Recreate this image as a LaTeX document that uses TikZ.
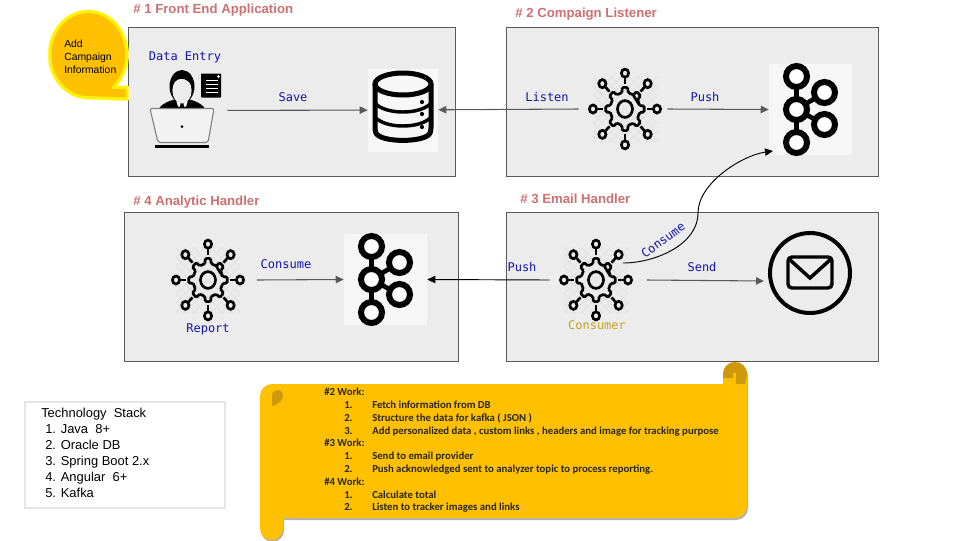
\documentclass[tikz,border=0pt]{standalone}
\usepackage{fontspec}
\setmainfont{Liberation Sans}
\setmonofont{DejaVu Sans Mono}
\newfontfamily\scrollfont{Carlito}
\usetikzlibrary{arrows.meta,positioning,shapes.geometric,calc}
\definecolor{panelgray}{RGB}{236,236,236}
\definecolor{edgegray}{RGB}{89,89,89}
\definecolor{titlered}{RGB}{204,112,112}
\definecolor{tagblue}{RGB}{20,20,170}
\definecolor{scrollgold}{RGB}{255,192,0}
\definecolor{folddark}{RGB}{205,153,10}
\definecolor{meshgray}{RGB}{226,226,226}
\definecolor{consumergold}{RGB}{200,160,40}

\tikzset{
	gearicon/.pic={
		\begin{scope}
			\clip (-32,-33) rectangle (32,33);
			\foreach \k in {-8,...,8} {
				\draw [meshgray, line width=0.6pt] (9*\k-40,-40) -- (9*\k+40,40);
				\draw [meshgray, line width=0.6pt] (9*\k+40,-40) -- (9*\k-40,40);
			}
		\end{scope}
		\begin{scope}[yscale=1.12]
			\draw [line width=2pt, rounded corners=1pt]
				\foreach \a in {0,45,...,315} { (\a-12:15) -- (\a-8:19.5) -- (\a+8:19.5) -- (\a+12:15) -- (\a+33:15) } -- cycle;
			\draw [line width=2pt] (0,0) circle (7.5);
			\foreach \a in {0,45,...,315} {
				\draw [line width=2pt] (\a:22) -- (\a:28.5);
				\draw [line width=2pt, fill=panelgray] (\a:32) circle (3.6);
			}
		\end{scope}
	},
	kafkaicon/.pic={
		\draw [line width=3.75pt] (-14,-33) -- (-14,33);
		\draw [line width=3.5pt] (-14,0) -- (14,-17) (-14,0) -- (14,15);
		\foreach \px/\py in {-14/-33,-14/0,-14/33,14/-17,14/15} {
			\draw [line width=4.5pt, fill=white] (\px,\py) circle (10.5);
		}
	},
	dbicon/.pic={
		\draw [line width=3.75pt, rounded corners=2pt] (-28,-26) -- (-28,20) .. controls (-24,33) and (24,33) .. (28,20) -- (28,-26);
		\draw [line width=3.75pt] (0,-26) ellipse (28 and 11);
		\draw [line width=2.6pt] (-28,-7) .. controls (-18,5) and (18,5) .. (28,-7);
		\draw [line width=2.6pt] (-28,7) .. controls (-18,19) and (18,19) .. (28,7);
		\fill (19,-8) circle (2.1) (19,4) circle (2.1) (19,17) circle (2.1);
	},
	mailicon/.pic={
		\draw [line width=2.6pt, rounded corners=3pt] (-22,-16) rectangle (22,15);
		\draw [line width=2.6pt] (-21,-14) -- (0,5) -- (21,-14);
	},
	agenticon/.pic={
		% man
		\fill (-23,-2) .. controls (-18,-9) and (-10,-10) .. (-5,-12) -- (5,-12) .. controls (10,-10) and (18,-9) .. (23,-2) -- cycle;
		\fill [white] (-6,-10) -- (0,-6) -- (6,-10) -- (4,-4) -- (-4,-4) -- cycle;
		\fill (-1.5,-7) -- (1.5,-7) -- (2.2,-2) -- (-2.2,-2) -- cycle;
		\fill (0,-24) ellipse (12.5 and 16.5);
		\fill [panelgray] (0,-20) ellipse (9.6 and 13);
		\fill (-10,-25) .. controls (-5,-34) and (4,-34) .. (10,-25) -- (8,-37) -- (-8,-37) -- cycle;
		% note
		\fill [rounded corners=0.5pt] (19,-37) rectangle (39,-13);
		\draw [white, line width=0.7pt] (24,-30) -- (36,-30) (24,-26) -- (36,-26) (24,-22) -- (36,-22) (24,-18) -- (36,-18);
		\draw [white, line width=0.7pt] (34.5,-34) -- (37.5,-34) (36,-35.5) -- (36,-32.5);
		% laptop
		\draw [color=gray, fill=panelgray!70!white, line width=0.8pt, rounded corners=1.5pt] (-32,-2) -- (32,-2) -- (26,32) -- (-24,32) -- cycle;
		\fill (0,16) circle (1.5);
		\fill (-27,34.5) rectangle (27,37.5);
	},
	callout/.pic={
		\draw [line width=3.2pt, color=yellow!40, line join=round]
			(127,99) -- (127,87.5) -- (113,87.5)
			arc [start angle=50, end angle=-270, x radius=38.5, y radius=43] -- cycle;
		\draw [line width=2.2pt, color=yellow, fill=scrollgold, line join=round]
			(127,99) -- (127,87.5) -- (113,87.5)
			arc [start angle=50, end angle=-270, x radius=38.5, y radius=43] -- cycle;
	}
}

\begin{document}
\begin{tikzpicture}[x=0.75pt, y=-0.75pt, >={Stealth[inset=0pt,length=6pt,width=5.5pt]},
	panel/.style={draw=edgegray, fill=panelgray, line width=0.7pt, minimum width=#1, minimum height=111.75pt, inner sep=0pt},
	paneltitle/.style={anchor=west, inner sep=0pt, color=titlered, font=\fontsize{9.9}{11}\selectfont\bfseries},
	tag/.style={inner sep=0pt, color=tagblue, font=\fontsize{9}{10}\selectfont\ttfamily},
	gearspot/.style={inner sep=0pt, minimum width=63pt, minimum height=75pt},
	kafkaspot/.style={inner sep=0pt, fill=gray!7, minimum width=62.25pt, minimum height=68.25pt},
	flowLine/.style={->, color=edgegray, line width=0.8pt},
	busLine/.style={->, color=black, line width=0.7pt}
	]
	\useasboundingbox (0,0) rectangle (960,540);

	\node [panel=245.25pt] (panelFront) at (291.5,101.5) {};
	\node [panel=279pt] (panelListen) at (692,101.5) {};
	\node [panel=279pt] (panelEmail) at (692,286.5) {};
	\node [panel=250.5pt] (panelReport) at (291,286.5) {};

	\node [paneltitle] (titleFront) at (133,10) {\# 1 Front End Application};
	\node [paneltitle] (titleListen) at (515,14) {\# 2 Compaign Listener};
	\node [paneltitle] (titleEmail) at (520,198.5) {\# 3 Email Handler};
	\node [paneltitle] (titleReport) at (133,202) {\# 4 Analytic Handler};

	% callout
	\pic {callout};
	\node [anchor=west, align=left, inner sep=0pt, font=\fontsize{7.8}{9.75}\selectfont] (calloutText) at (64,57) {Add\\Campaign\\Information};

	% icons
	\node [inner sep=0pt, minimum width=67.5pt, minimum height=60pt] (agent) at (182,110.5) {};
	\pic at (agent) {agenticon};
	\node [inner sep=0pt, fill=gray!6, minimum width=52.5pt, minimum height=62.25pt] (database) at (403,110) {};
	\pic at (database) {dbicon};
	\node [gearspot] (gearListen) at (625,109) {};
	\pic at (gearListen) {gearicon};
	\node [kafkaspot] (kafkaTop) at (810.5,109.5) {};
	\pic at (kafkaTop) {kafkaicon};
	\node [gearspot] (gearEmail) at (596,280) {};
	\pic at (gearEmail) {gearicon};
	\node [draw, circle, line width=3pt, minimum size=60pt, inner sep=0pt] (mail) at (810,273) {};
	\pic at (mail) {mailicon};
	\node [gearspot] (gearReport) at (208,280) {};
	\pic at (gearReport) {gearicon};
	\node [kafkaspot] (kafkaLow) at (385.5,279.5) {};
	\pic at (kafkaLow) {kafkaicon};

	% labels
	\node [tag] (entryTag) at (185,57) {Data Entry};
	\node [tag] (saveTag) at (293,97) {Save};
	\node [tag] (listenTag) at (547,97) {Listen};
	\node [tag] (pushTag) at (705,97) {Push};
	\node [tag] (pushLowTag) at (522,267) {Push};
	\node [tag] (sendTag) at (702,267) {Send};
	\node [tag] (consumeTag) at (286,264) {Consume};
	\node [tag] (reportTag) at (208,329) {Report};
	\node [tag, color=consumergold] (consumerTag) at (597,325) {Consumer};
	\node [tag, rotate=36] (consumeUpTag) at (663,240) {Consume};

	% connectors
	\draw [flowLine] (agent) -- (database);
	\draw [flowLine] ([xshift=-3pt]gearListen.west) -- (database);
	\draw [flowLine] (gearListen.east) -- (kafkaTop.west);
	\draw [busLine] ([xshift=-3pt]gearEmail.west) -- (kafkaLow.east);
	\draw [flowLine] ([xshift=6.5pt]gearEmail.east) -- ([shift={(-3pt,-6pt)}]mail.west);
	\draw [flowLine] ([xshift=5pt]gearReport.east) -- (kafkaLow.west);
	\coordinate (consumeOut) at (623,263);
	\coordinate (consumeBend) at (698,213);
	\coordinate (kafkaIn) at (773,151);
	\draw [busLine] (consumeOut) to [out=0, in=-90, looseness=0.9] (consumeBend) to [out=90, in=188, looseness=0.8] (kafkaIn);

	% stack
	\node [draw=gray!20, fill=white, line width=1.8pt, minimum width=150pt, minimum height=79.5pt, inner sep=0pt] (stackBox) at (125,455) {};
	\node [anchor=north west, align=left, inner sep=0pt, font=\fontsize{9.7}{12}\selectfont] (stackText) at (41,408) {Technology\ \ Stack\\
		\hspace*{3pt}1. Java\ \ 8+\\
		\hspace*{3pt}2. Oracle DB\\
		\hspace*{3pt}3. Spring Boot 2.x\\
		\hspace*{3pt}4. Angular\ \ 6+\\
		\hspace*{3pt}5. Kafka};

	% scroll
	\tikzset{scrollshape/.style={insert path={
		(260,396) arc [start angle=180, end angle=270, radius=12] -- (723,384) -- (723,374)
		arc [start angle=180, end angle=360, radius=12] -- (747,506)
		arc [start angle=0, end angle=90, radius=12] -- (283,518) -- (283,528.5)
		arc [start angle=0, end angle=180, x radius=11.5, y radius=11.5] -- cycle}}}
	\fill [gray!60, shift={(1,2)}, scrollshape];
	\fill [scrollgold, scrollshape];
	\fill [folddark] (723,378) -- (723,374) arc [start angle=180, end angle=360, radius=12] -- (745,384) -- (736,384) -- (736,373) .. controls (735,372) and (733,372) .. (733,374) -- (733,378) -- cycle;
	\fill [folddark] (272,406) -- (272,396) .. controls (272,392) and (275,390) .. (278,390) .. controls (283,390) and (284,396) .. (282,399) .. controls (280,403) and (276,405) .. (272,406);
	\node [anchor=north west, inner sep=0pt, text=black!85, font=\scrollfont\fontsize{8.05}{9.6}\selectfont\bfseries] (workText) at (324,386.5) {%
		\begin{tabular}{@{}p{15pt}@{}p{21pt}@{}l@{}}
			\multicolumn{3}{@{}l}{\#2 Work:}\\
			& 1. & Fetch information from DB\\
			& 2. & Structure the data for kafka ( JSON )\\
			& 3. & Add personalized data , custom links , headers and image for tracking purpose\\
			\multicolumn{3}{@{}l}{\#3 Work:}\\
			& 1. & Send to email provider\\
			& 2. & Push acknowledged sent to analyzer topic to process reporting.\\
			\multicolumn{3}{@{}l}{\#4 Work:}\\
			& 1. & Calculate total\\
			& 2. & Listen to tracker images and links
		\end{tabular}};
\end{tikzpicture}
\end{document}
